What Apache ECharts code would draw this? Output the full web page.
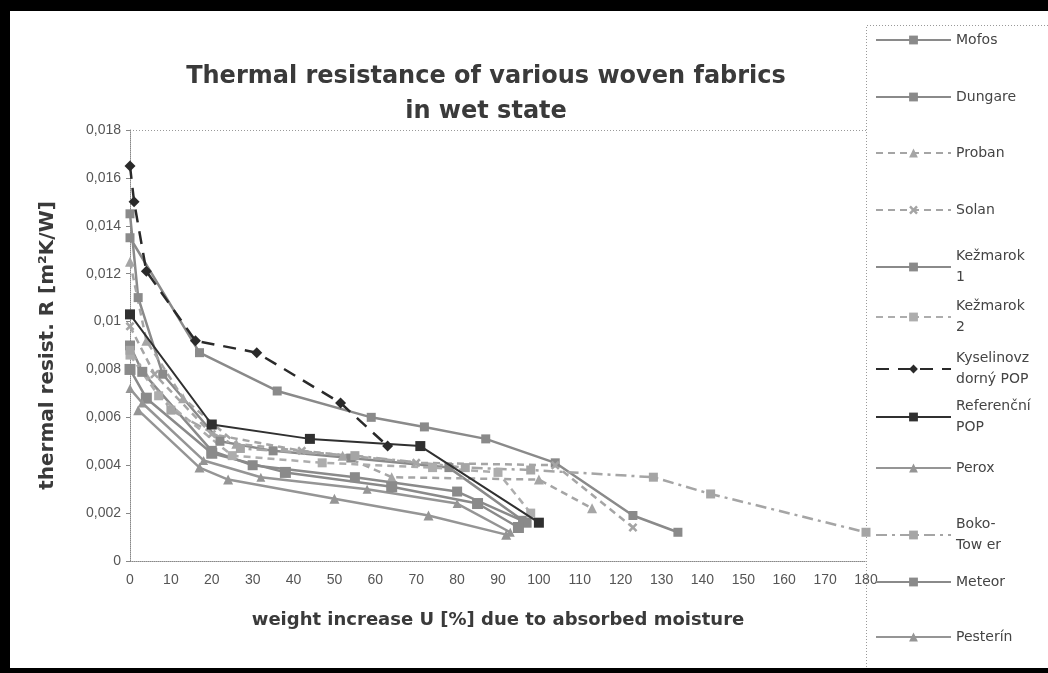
<!DOCTYPE html>
<html><head><meta charset="utf-8">
<script src="https://cdn.jsdelivr.net/npm/echarts@6/dist/echarts.min.js"></script>
<style>html,body{margin:0;padding:0;background:#fff}#c{width:1048px;height:673px}</style>
</head><body><div id="c"></div><script>
// ---- data ----
const seriesNames = ['Mofos','Dungare','Proban','Solan','Kežmarok 1','Kežmarok 2','Kyselinovzdorný POP','Referenční POP','Perox','Boko-Tower','Meteor','Pesterín'];
const legendLabels = ['Mofos','Dungare','Proban','Solan','Kežmarok\n1','Kežmarok\n2','Kyselinovz\ndorný POP','Referenční\nPOP','Perox','Boko-\nTow er','Meteor','Pesterín'];
const yTickLabels = ['0','0,002','0,004','0,006','0,008','0,01','0,012','0,014','0,016','0,018'];
const xTickLabels = ['0','10','20','30','40','50','60','70','80','90','100','110','120','130','140','150','160','170','180'];
// [U %, R m2K/W]
const mofos = [[0,0.0135],[17,0.0087],[36,0.0071],[59,0.0060],[72,0.0056],[87,0.0051],[104,0.0041],[123,0.0019],[134,0.0012]];
const dungare = [[0,0.0145],[2,0.0110],[8,0.0078],[22,0.0050],[35,0.0046],[54,0.0043],[78,0.0039],[96,0.0017]];
const proban = [[0,0.0125],[4,0.0092],[13,0.0068],[26,0.0049],[52,0.0044],[64,0.0035],[100,0.0034],[113,0.0022]];
const solan = [[0,0.0098],[6,0.0078],[20,0.0053],[42,0.0046],[70,0.0041],[104,0.0040],[123,0.0014]];
const kezmarok1 = [[0,0.0090],[3,0.0079],[20,0.0046],[30,0.0040],[55,0.0035],[80,0.0029],[97,0.0016]];
const kezmarok2 = [[0,0.0086],[7,0.0069],[25,0.0044],[47,0.0041],[74,0.0039],[90,0.0037],[98,0.0020]];
const kyselinovzdorny = [[0,0.0165],[1,0.0150],[4,0.0121],[16,0.0092],[31,0.0087],[51.5,0.0066],[63,0.0048]];
const referencni = [[0,0.0103],[20,0.0057],[44,0.0051],[71,0.0048],[100,0.0016]];
const perox = [[2,0.0063],[17,0.0039],[24,0.0034],[50,0.0026],[73,0.0019],[92,0.0011]];
const bokoTower = [[0,0.0088],[10,0.0063],[27,0.0047],[55,0.0044],[82,0.0039],[98,0.0038],[128,0.0035],[142,0.0028],[180,0.0012]];
const meteor = [[0,0.0080],[4,0.0068],[20,0.0045],[38,0.0037],[64,0.0031],[85,0.0024],[95,0.0014]];
const pesterin = [[0,0.0072],[3,0.0066],[18,0.0042],[32,0.0035],[58,0.0030],[80,0.0024],[93,0.0012]];
const seriesData = [mofos,dungare,proban,solan,kezmarok1,kezmarok2,kyselinovzdorny,referencni,perox,bokoTower,meteor,pesterin];

// ---- styles ----
const xMark = 'path://M0,4 L4,0 L10,6 L16,0 L20,4 L14,10 L20,16 L16,20 L10,14 L4,20 L0,16 L6,10 Z';
const styles = [
  {c:'#8a8a8a', t:'solid', s:'rect', z:9, w:2.5},
  {c:'#8a8a8a', t:'solid', s:'rect', z:9, w:2.5},
  {c:'#a5a5a5', t:[7,5], s:'triangle', z:10, w:2.5},
  {c:'#a5a5a5', t:[7,5], s:xMark, z:9, w:2.5},
  {c:'#8a8a8a', t:'solid', s:'rect', z:10, w:2.5},
  {c:'#adadad', t:[7,5], s:'rect', z:9, w:2.5},
  {c:'#2a2a2a', t:[13,9], s:'diamond', z:11, w:2.5},
  {c:'#303030', t:'solid', s:'rect', z:10, w:2},
  {c:'#959595', t:'solid', s:'triangle', z:10, w:2.5},
  {c:'#a5a5a5', t:[11,5,3,5], s:'rect', z:9, w:2.5},
  {c:'#8a8a8a', t:'solid', s:'rect', z:11, w:2.5},
  {c:'#959595', t:'solid', s:'triangle', z:9, w:2.5}
];
const legendY = [40, 97, 153, 210, 267, 317, 369, 417, 468, 535, 582, 637];
const legendLine = 21;
const sans = 'Liberation Sans, Arial, sans-serif';
const wide = 'DejaVu Sans, Verdana, sans-serif';

const chart = echarts.init(document.getElementById('c'), null, {renderer:'canvas'});
chart.setOption({
  animation: false,
  backgroundColor: '#ffffff',
  title: {
    text: 'Thermal resistance of various woven fabrics\nin wet state',
    left: 481, top: 54, textAlign: 'center',
    textStyle: {fontFamily: wide, fontSize: 24, fontWeight: 'bold', color: '#3a3a3a', lineHeight: 35}
  },
  grid: {left: 130, right: 182, top: 130, bottom: 112, containLabel: false, outerBoundsMode: 'none'},
  xAxis: {
    type: 'value', min: 0, max: 180, interval: 10,
    name: 'weight increase U [%] due to absorbed moisture',
    nameLocation: 'middle', nameGap: 50,
    nameTextStyle: {fontFamily: wide, fontSize: 18, fontWeight: 'bold', color: '#3a3a3a'},
    axisLine: {show: true, lineStyle: {color: '#888', type: 'dotted', width: 1}},
    axisTick: {show: false},
    splitLine: {show: false},
    axisLabel: {margin: 12, fontFamily: sans, fontSize: 14, color: '#555',
      formatter: v => xTickLabels[Math.round(v / 10)]}
  },
  yAxis: {
    type: 'value', min: 0, max: 0.018, interval: 0.002,
    name: 'thermal resist. R [m²K/W]',
    nameLocation: 'middle', nameGap: 72, nameRotate: 90,
    nameTextStyle: {fontFamily: wide, fontSize: 20, fontWeight: 'bold', color: '#3a3a3a'},
    axisLine: {show: true, lineStyle: {color: '#888', type: 'dotted', width: 1}},
    axisTick: {show: true, length: 4, lineStyle: {color: '#888'}},
    splitLine: {show: false},
    axisLabel: {margin: 9, fontFamily: sans, fontSize: 14, color: '#555',
      formatter: v => yTickLabels[Math.round(v / 0.002)]}
  },
  legend: seriesNames.map((n, i) => {
    const two = legendLabels[i].indexOf('\n') >= 0;
    return {
      data: [n], orient: 'vertical', left: 875,
      top: legendY[i] - (two ? legendLine * 1.5 : legendLine / 2),
      padding: 0, itemWidth: 75, itemHeight: 11, itemGap: 0,
      selectedMode: false,
      formatter: () => legendLabels[i],
      textStyle: {fontFamily: wide, fontSize: 14, color: '#444', lineHeight: legendLine,
        padding: two ? [legendLine, 0, 0, 0] : 0}
    };
  }),
  series: seriesNames.map((n, i) => ({
    name: n, type: 'line', data: seriesData[i],
    symbol: styles[i].s, symbolSize: styles[i].z, showSymbol: true,
    z: i === 6 || i === 7 ? 5 : 2,
    lineStyle: {color: styles[i].c, width: styles[i].w, type: styles[i].t},
    itemStyle: {color: styles[i].c},
    emphasis: {disabled: true}
  })),
  graphic: [
    {type: 'line', shape: {x1: 130, y1: 130.5, x2: 866, y2: 130.5}, style: {stroke: '#999', lineWidth: 1, lineDash: [1, 2]}},
    {type: 'polyline', shape: {points: [[866.5, 673], [866.5, 25.5], [1048, 25.5]]}, style: {stroke: '#999', lineWidth: 1, lineDash: [1, 2], fill: null}},
    {type: 'rect', shape: {x: 0, y: 0, width: 1048, height: 11}, style: {fill: '#000'}},
    {type: 'rect', shape: {x: 0, y: 0, width: 10, height: 673}, style: {fill: '#000'}},
    {type: 'rect', shape: {x: 0, y: 668, width: 1048, height: 5}, style: {fill: '#000'}}
  ]
});
</script></body></html>
